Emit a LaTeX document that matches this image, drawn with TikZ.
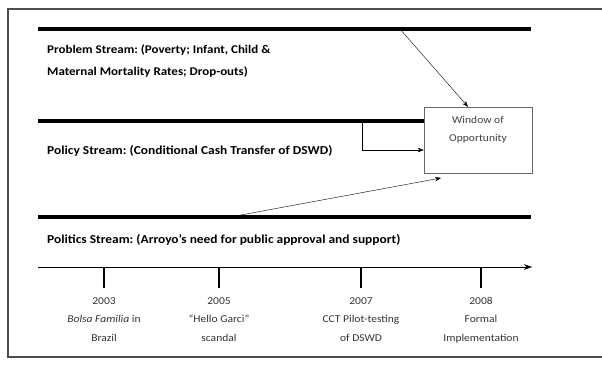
\documentclass[tikz,border=0pt]{standalone}
\usepackage{fontspec}
\setmainfont{Carlito}[FakeStretch=1.1]
\usetikzlibrary{arrows.meta}
\usetikzlibrary{positioning}
\frenchspacing

\begin{document}
\begin{tikzpicture}[x=1pt,y=-1pt,
  bar/.style={line width=4pt},
  link/.style={thin,-{Stealth[length=6pt,width=4.5pt]}},
  streamtxt/.style={anchor=west,inner sep=0pt,align=left,
    font=\bfseries\fontsize{12.2}{22}\selectfont},
  winbox/.style={draw=black!60,minimum width=108pt,minimum height=66pt},
  yeartxt/.style={anchor=north,inner sep=0pt,align=center,text=black!80,
    font=\fontsize{10.5}{18.5}\selectfont}]
  \useasboundingbox (0,0) rectangle (602,365);
  \draw[black!70,line width=1.5pt] (603,9) -- (8,9) -- (8,357) -- (603,357);

  % the three streams
  \coordinate (prob w) at (38,29);  \coordinate (prob e) at (531,29);
  \coordinate (pol w) at (38,121);
  \coordinate (pols w) at (38,217); \coordinate (pols e) at (531,217);
  \node[winbox] (win) at (478,140) {};
  \node[align=center,inner sep=0pt,text=black!75,font=\fontsize{10.5}{18}\selectfont,
    below=9pt of win.north] (wintxt) {Window of\\Opportunity};
  \draw[bar] (prob w) -- (prob e);
  \draw[bar] (pol w) -- (pol w -| win.west);
  \draw[bar] (pols w) -- (pols e);

  \node[streamtxt,font=\bfseries\fontsize{11.8}{22}\selectfont] (probtxt) at (47,61) {Problem Stream: (Poverty; Infant, Child \&\\Maternal Mortality Rates; Drop-outs)};
  \node[streamtxt] (poltxt) at (47,151) {Policy Stream: (Conditional Cash Transfer of DSWD)};
  \node[streamtxt] (polstxt) at (47,240) {Politics Stream: (Arroyo's need for public approval and support)};

  % into the window
  \coordinate (a1) at (400,29);  \coordinate (a2) at (362,121); \coordinate (a3) at (230,217);
  \draw[link] (a1) -- (win.north -| 468,0);
  \draw[link] (a2) |- ([yshift=-10pt]win.west);
  \draw[link] (a3) -- (441,178);

  % timeline
  \coordinate (t0) at (38,267); \coordinate (t1) at (532,267);
  \draw[thin,-{Stealth[length=8pt,width=5.5pt]}] (t0) -- (t1);
  \foreach \x/\yr/\txt [count=\i] in {104/2003/{\textit{Bolsa Familia} in\\Brazil},
      219/2005/{``Hello Garci''\\scandal},
      361/2007/{CCT Pilot-testing\\of DSWD},
      481/2008/{Formal\\Implementation}}{
    \draw[line width=1.6pt] (\x,267) -- (\x,288);
    \node[yeartxt] (yr\i) at (\x,297) {\yr\\\txt};
  }
\end{tikzpicture}
\end{document}
